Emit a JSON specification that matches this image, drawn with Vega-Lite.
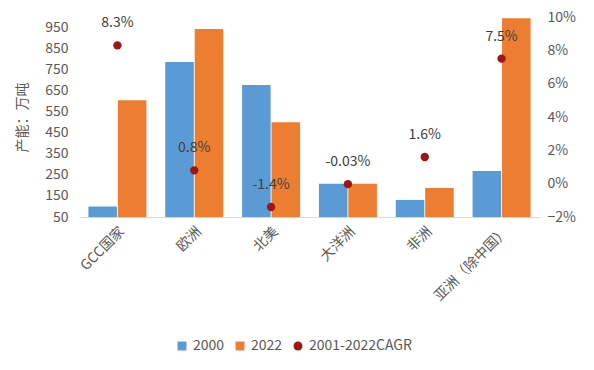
{
  "$schema": "https://vega.github.io/schema/vega-lite/v6.json",
  "width": 461,
  "height": 200,
  "autosize": {"type": "none"},
  "padding": {"left": 79, "top": 17, "right": 54, "bottom": 153},
  "background": "white",
  "config": {
    "font": "Noto Sans CJK SC",
    "view": {"stroke": null},
    "axis": {
      "labelColor": "#595959",
      "labelFontSize": 14,
      "labelFont": "Noto Sans CJK SC",
      "titleColor": "#595959",
      "titleFont": "Noto Sans CJK SC",
      "titleFontSize": 14,
      "titleFontWeight": "normal",
      "grid": false,
      "ticks": false,
      "domain": false,
      "labelOverlap": false,
      "labelFlush": false
    },
    "legend": {
      "labelColor": "#595959",
      "labelFontSize": 14,
      "labelFont": "Noto Sans CJK SC"
    }
  },
  "datasets": {
    "bars": [
      {"region": "GCC国家", "series": "2000", "capacity": 100},
      {"region": "GCC国家", "series": "2022", "capacity": 605},
      {"region": "欧洲", "series": "2000", "capacity": 786},
      {"region": "欧洲", "series": "2022", "capacity": 943},
      {"region": "北美", "series": "2000", "capacity": 677},
      {"region": "北美", "series": "2022", "capacity": 500},
      {"region": "大洋洲", "series": "2000", "capacity": 208},
      {"region": "大洋洲", "series": "2022", "capacity": 208},
      {"region": "非洲", "series": "2000", "capacity": 131},
      {"region": "非洲", "series": "2022", "capacity": 188},
      {"region": "亚洲（除中国）", "series": "2000", "capacity": 268},
      {"region": "亚洲（除中国）", "series": "2022", "capacity": 994}
    ],
    "cagr": [
      {"region": "GCC国家", "series": "2001-2022CAGR", "cagr": 0.083, "label": "8.3%"},
      {"region": "欧洲", "series": "2001-2022CAGR", "cagr": 0.008, "label": "0.8%"},
      {"region": "北美", "series": "2001-2022CAGR", "cagr": -0.014, "label": "-1.4%"},
      {"region": "大洋洲", "series": "2001-2022CAGR", "cagr": -0.0003, "label": "-0.03%"},
      {"region": "非洲", "series": "2001-2022CAGR", "cagr": 0.016, "label": "1.6%"},
      {"region": "亚洲（除中国）", "series": "2001-2022CAGR", "cagr": 0.075, "label": "7.5%"}
    ]
  },
  "layer": [
    {
      "data": {"name": "bars"},
      "mark": {"type": "bar", "clip": true},
      "encoding": {
        "x": {
          "field": "region",
          "type": "nominal",
          "sort": ["GCC国家", "欧洲", "北美", "大洋洲", "非洲", "亚洲（除中国）"],
          "scale": {"paddingInner": 0.245, "paddingOuter": 0.1225},
          "axis": {"labelAngle": -45, "domain": true, "domainColor": "#D9D9D9", "title": null, "labelPadding": 7}
        },
        "xOffset": {
          "field": "series",
          "type": "nominal",
          "sort": ["2000", "2022"],
          "scale": {"paddingInner": 0.03}
        },
        "y": {
          "field": "capacity",
          "type": "quantitative",
          "scale": {"domain": [50, 1000], "zero": false, "nice": false},
          "axis": {"values": [50, 150, 250, 350, 450, 550, 650, 750, 850, 950], "title": "产能：万吨", "labelPadding": 11, "titlePadding": 15, "labelOverlap": false}
        },
        "color": {
          "field": "series",
          "type": "nominal",
          "scale": {"domain": ["2000", "2022", "2001-2022CAGR"], "range": ["#5B9BD5", "#ED7D31", "#A11414"]},
          "legend": {"title": null, "orient": "none", "legendX": 96, "legendY": 322, "direction": "horizontal", "symbolSize": 80, "columnPadding": 8, "labelOffset": 4}
        }
      }
    },
    {
      "data": {"name": "cagr"},
      "layer": [
        {
          "mark": {"type": "point", "filled": true, "size": 70, "opacity": 1},
          "encoding": {
            "x": {"field": "region", "type": "nominal", "sort": ["GCC国家", "欧洲", "北美", "大洋洲", "非洲", "亚洲（除中国）"]},
            "y": {
              "field": "cagr",
              "type": "quantitative",
              "scale": {"domain": [-0.02, 0.10], "zero": false, "nice": false},
              "axis": {"orient": "right", "format": ".0%", "values": [-0.02, 0, 0.02, 0.04, 0.06, 0.08, 0.10], "title": null, "labelPadding": 7, "labelOverlap": false, "labelFlush": false}
            },
            "color": {"field": "series", "type": "nominal"},
            "shape": {
              "field": "series",
              "type": "nominal",
              "scale": {"domain": ["2000", "2022", "2001-2022CAGR"], "range": ["square", "square", "circle"]}
            }
          }
        },
        {
          "mark": {"type": "text", "dy": -22, "fontSize": 14, "color": "#404040", "font": "Noto Sans CJK SC"},
          "encoding": {
            "x": {"field": "region", "type": "nominal", "sort": ["GCC国家", "欧洲", "北美", "大洋洲", "非洲", "亚洲（除中国）"]},
            "y": {
              "field": "cagr",
              "type": "quantitative",
              "axis": {"orient": "right", "format": ".0%", "values": [-0.02, 0, 0.02, 0.04, 0.06, 0.08, 0.10], "title": null, "labelPadding": 7, "labelOverlap": false, "labelFlush": false}
            },
            "text": {"field": "label"}
          }
        }
      ]
    }
  ],
  "resolve": {"scale": {"y": "independent"}}
}
